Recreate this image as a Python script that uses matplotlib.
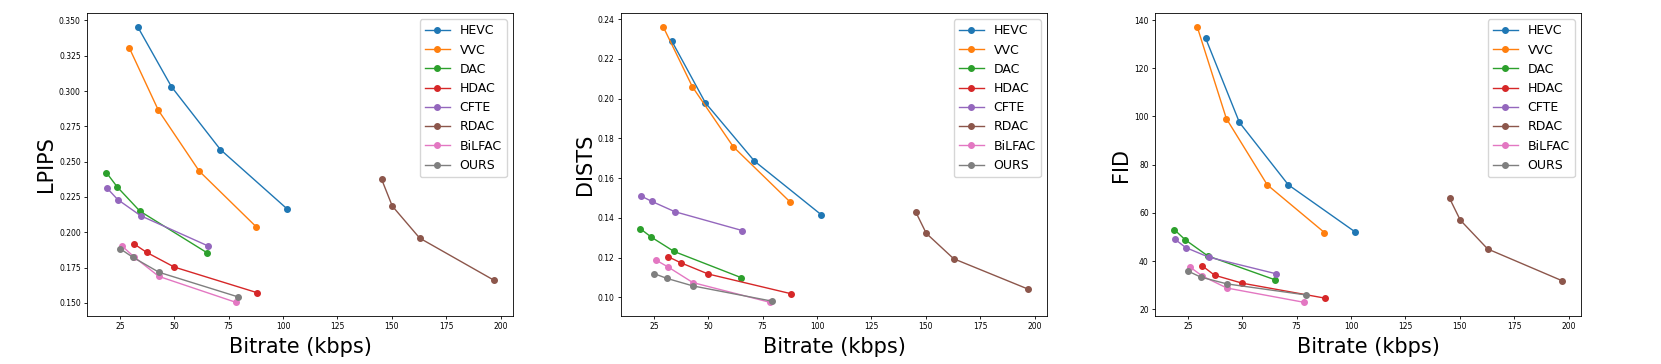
import matplotlib
matplotlib.use("Agg")
import matplotlib.pyplot as plt

methods = ["HEVC", "VVC", "DAC", "HDAC", "CFTE", "RDAC", "BiLFAC", "OURS"]

# bitrate (kbps) per method, shared by all three metrics
bitrate = {
    "HEVC": [33.2, 48.7, 71.2, 102.0],
    "VVC": [29.3, 42.7, 61.5, 87.8],
    "DAC": [18.8, 23.8, 34.2, 65.1],
    "HDAC": [31.6, 37.3, 50.0, 88.0],
    "CFTE": [19.1, 24.0, 34.6, 65.6],
    "RDAC": [145.3, 150.2, 162.8, 196.8],
    "BiLFAC": [26.0, 31.6, 42.9, 78.2],
    "OURS": [25.1, 31.0, 43.0, 79.5],
}

lpips = {
    "HEVC": [0.3455, 0.3031, 0.2586, 0.2164],
    "VVC": [0.3307, 0.2864, 0.2433, 0.2037],
    "DAC": [0.2423, 0.2321, 0.2150, 0.1855],
    "HDAC": [0.1917, 0.1858, 0.1754, 0.1573],
    "CFTE": [0.2313, 0.2232, 0.2117, 0.1903],
    "RDAC": [0.2376, 0.2186, 0.1959, 0.1662],
    "BiLFAC": [0.1903, 0.1825, 0.1688, 0.1505],
    "OURS": [0.1884, 0.1823, 0.1717, 0.1542],
}

dists = {
    "HEVC": [0.2291, 0.1979, 0.1686, 0.1415],
    "VVC": [0.2362, 0.2060, 0.1758, 0.1478],
    "DAC": [0.1345, 0.1303, 0.1231, 0.1099],
    "HDAC": [0.1204, 0.1174, 0.1117, 0.1018],
    "CFTE": [0.1510, 0.1483, 0.1431, 0.1336],
    "RDAC": [0.1431, 0.1322, 0.1194, 0.1042],
    "BiLFAC": [0.1187, 0.1152, 0.1074, 0.0975],
    "OURS": [0.1119, 0.1095, 0.1057, 0.0980],
}

fid = {
    "HEVC": [132.4, 97.5, 71.6, 52.0],
    "VVC": [137.2, 99.1, 71.6, 51.8],
    "DAC": [53.0, 48.8, 42.1, 32.2],
    "HDAC": [38.0, 34.1, 30.8, 24.6],
    "CFTE": [49.0, 45.6, 41.6, 34.7],
    "RDAC": [66.0, 57.0, 45.0, 31.9],
    "BiLFAC": [37.5, 33.8, 28.8, 22.9],
    "OURS": [35.8, 33.3, 30.5, 25.9],
}

metrics = [("LPIPS", lpips), ("DISTS", dists), ("FID", fid)]
lefts = [87, 621, 1155]

W, H = 1661, 364
fig = plt.figure(figsize=(W / 100, H / 100), dpi=100)

for left, (name, data) in zip(lefts, metrics):
    ax = fig.add_axes([left / W, 48 / H, 426 / W, 303 / H])
    for m in methods:
        ax.plot(bitrate[m], data[m], marker="o", markersize=4, linewidth=1, label=m)
    ax.set_xlabel("Bitrate (kbps)", fontsize=15)
    ax.set_ylabel(name, fontsize=15, labelpad=2)
    ax.tick_params(labelsize=5.5, length=2.5, width=0.6, pad=2)
    for s in ax.spines.values():
        s.set_linewidth(0.6)
    ax.set_xticks([25, 50, 75, 100, 125, 150, 175, 200])
    ax.legend(loc="upper right", fontsize=9)

fig.savefig("out.png", dpi=100)
